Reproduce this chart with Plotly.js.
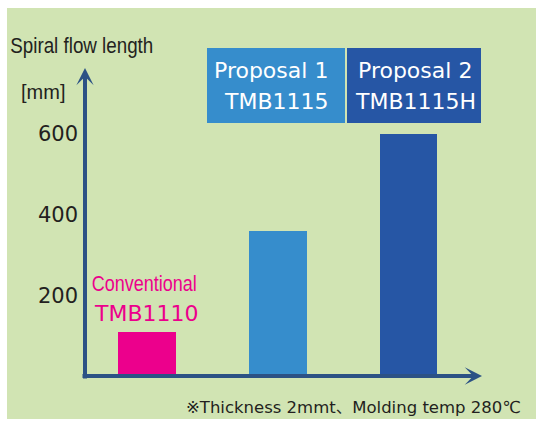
<!DOCTYPE html>
<html>
<head>
<meta charset="utf-8">
<script src="https://cdn.plot.ly/plotly-3.0.1.min.js"></script>
<style>
html,body{margin:0;padding:0;background:#ffffff;}
#chart{width:536px;height:426px;}
</style>
</head>
<body>
<div id="chart"></div>
<script>
// ---- data ----
const categories = ["Conventional TMB1110", "Proposal 1 TMB1115", "Proposal 2 TMB1115H"];
const flowLength = [110, 360, 600];           // spiral flow length [mm]
const yTickValues = [200, 400, 600];
const yTickLabels = ["200", "400", "600"];
const yAxisTitle = "Spiral flow length";
const yAxisUnit = "[mm]";
const conventionalName = "Conventional";
const footnote = "※Thickness 2mmt、Molding temp 280℃";

// ---- styles ----
const barColors = ["#ec008c", "#368dcc", "#2656a5"];
const axisColor = "#2c5285";
const panelColor = "#d1e4b3";
const textColor = "#231f20";
const sansFont = "'Liberation Sans', Arial, sans-serif";
const wideFont = "'DejaVu Sans', 'Noto Sans CJK JP', sans-serif";

const trace = {
  type: "bar",
  x: categories,
  y: flowLength,
  width: 0.44,
  marker: {color: barColors},
  hoverinfo: "none"
};

const layout = {
  width: 536,
  height: 426,
  margin: {l: 85, r: 54, t: 68, b: 50},
  paper_bgcolor: "#ffffff",
  plot_bgcolor: "rgba(0,0,0,0)",
  showlegend: false,
  bargap: 0,
  xaxis: {
    type: "category",
    range: [-0.474, 2.562],
    showticklabels: false,
    showgrid: false,
    zeroline: false,
    showline: false,
    ticks: "",
    fixedrange: true
  },
  yaxis: {
    range: [0, 763.6],
    tickvals: yTickValues,
    ticktext: yTickLabels,
    ticks: "",
    ticklabelstandoff: 6,
    showgrid: false,
    zeroline: false,
    showline: false,
    tickfont: {family: wideFont, size: 21, color: textColor},
    fixedrange: true
  },
  shapes: [
    {type: "rect", xref: "paper", yref: "paper", layer: "below",
     x0: -0.1965, x1: 1.14, y0: -0.1396, y1: 1.1948,
     fillcolor: panelColor, line: {width: 0}},
    {type: "rect", xref: "paper", yref: "paper",
     x0: (207 - 85) / 397, x1: (345 - 85) / 397, y0: (376 - 123) / 308, y1: (376 - 48) / 308,
     fillcolor: barColors[1], line: {width: 0}},
    {type: "rect", xref: "paper", yref: "paper",
     x0: (347 - 85) / 397, x1: (481 - 85) / 397, y0: (376 - 123) / 308, y1: (376 - 48) / 308,
     fillcolor: barColors[2], line: {width: 0}}
  ],
  annotations: [
    // axes arrows
    {xref: "paper", yref: "paper", x: 0, y: 1, ax: 0, ay: 312, axref: "pixel", ayref: "pixel",
     text: "", showarrow: true, arrowhead: 3, arrowsize: 0.72, arrowwidth: 4, arrowcolor: axisColor,
     font: {size: 1}},
    {xref: "paper", yref: "paper", x: 1, y: 0, ax: -401, ay: 0, axref: "pixel", ayref: "pixel",
     text: "", showarrow: true, arrowhead: 3, arrowsize: 0.72, arrowwidth: 4, arrowcolor: axisColor,
     font: {size: 1}},
    // axis title (narrowed after drawing)
    {xref: "paper", yref: "paper", x: (81.5 - 85) / 397, y: (376 - 45) / 308, xanchor: "center", yanchor: "middle",
     text: yAxisTitle, showarrow: false, font: {family: sansFont, size: 22, color: textColor}},
    {xref: "paper", yref: "paper", x: (19 - 85) / 397, y: (376 - 92) / 308, xanchor: "left", yanchor: "middle",
     text: yAxisUnit, showarrow: false, font: {family: sansFont, size: 20, color: textColor}},
    // conventional label (narrowed after drawing)
    {xref: "paper", yref: "paper", x: (143.5 - 85) / 397, y: (376 - 283.5) / 308, xanchor: "center", yanchor: "middle",
     text: conventionalName, showarrow: false, font: {family: sansFont, size: 22, color: barColors[0]}},
    {xref: "paper", yref: "paper", x: (146.5 - 85) / 397, y: (376 - 313.5) / 308, xanchor: "center", yanchor: "middle",
     text: "TMB1110", showarrow: false, font: {family: wideFont, size: 22, color: barColors[0]}},
    // proposal labels
    {xref: "paper", yref: "paper", x: (271 - 85) / 397, y: (376 - 70.7) / 308, xanchor: "center", yanchor: "middle",
     text: "Proposal 1", showarrow: false, font: {family: wideFont, size: 22, color: "#ffffff"}},
    {xref: "paper", yref: "paper", x: (276.5 - 85) / 397, y: (376 - 101.7) / 308, xanchor: "center", yanchor: "middle",
     text: "TMB1115", showarrow: false, font: {family: wideFont, size: 22, color: "#ffffff"}},
    {xref: "paper", yref: "paper", x: (415 - 85) / 397, y: (376 - 70.7) / 308, xanchor: "center", yanchor: "middle",
     text: "Proposal 2", showarrow: false, font: {family: wideFont, size: 22, color: "#ffffff"}},
    {xref: "paper", yref: "paper", x: (415 - 85) / 397, y: (376 - 101.7) / 308, xanchor: "center", yanchor: "middle",
     text: "TMB1115H", showarrow: false, font: {family: wideFont, size: 22, color: "#ffffff"}},
    // footnote
    {xref: "paper", yref: "paper", x: (523 - 85) / 397, y: (376 - 407) / 308, xanchor: "right", yanchor: "middle",
     text: footnote, showarrow: false, font: {family: wideFont, size: 16.5, color: textColor}}
  ]
};

// condensed look for two labels (no condensed font installed)
const narrowWidths = {};
narrowWidths[yAxisTitle] = 143;
narrowWidths[conventionalName] = 105;

Plotly.newPlot("chart", [trace], layout, {staticPlot: true, displayModeBar: false}).then(function () {
  document.querySelectorAll("#chart text.annotation-text").forEach(function (t) {
    const w = narrowWidths[t.textContent];
    if (w) {
      t.setAttribute("textLength", w);
      t.setAttribute("lengthAdjust", "spacingAndGlyphs");
    }
  });
});
</script>
</body>
</html>
